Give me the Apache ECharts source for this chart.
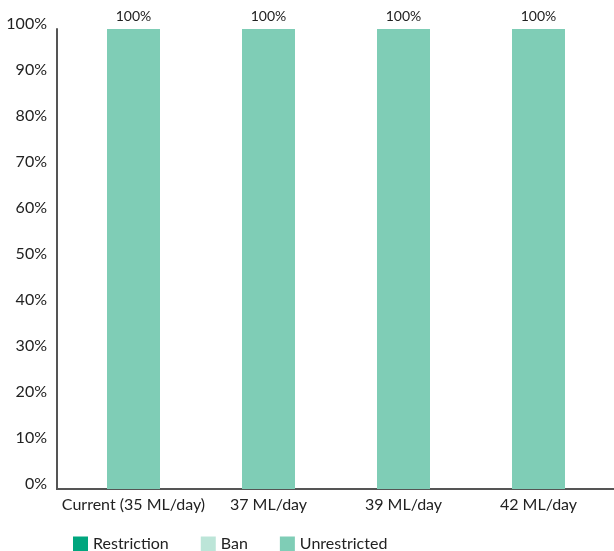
<!DOCTYPE html>
<html>
<head>
<meta charset="utf-8">
<script src="https://cdn.jsdelivr.net/npm/echarts@6/dist/echarts.min.js"></script>
<style>
  html, body { margin: 0; padding: 0; background: #fff; }
  #main { width: 614px; height: 551px; }
</style>
</head>
<body>
<div id="main"></div>
<script>
// data
var categories = ['Current (35 ML/day)', '37 ML/day', '39 ML/day', '42 ML/day'];
var restriction = [0, 0, 0, 0];
var ban = [0, 0, 0, 0];
var unrestricted = [100, 100, 100, 100];

var chartDom = document.getElementById('main');
var myChart = echarts.init(chartDom);
var font = 'Lato';

var option = {
  animation: false,
  textStyle: { fontFamily: font },
  grid: { left: 66, right: 8, top: 29, bottom: 62 },
  legend: {
    top: 531,
    left: 68,
    itemWidth: 15,
    itemHeight: 15,
    itemGap: 32,
    icon: 'rect',
    textStyle: { fontSize: 16, color: '#222', fontFamily: font },
    data: ['Restriction', 'Ban', 'Unrestricted']
  },
  xAxis: {
    type: 'category',
    data: categories,
    axisLine: { lineStyle: { color: '#555', width: 2 } },
    axisTick: { show: false },
    axisLabel: { fontSize: 16, color: '#222', margin: 8, interval: 0 }
  },
  yAxis: {
    type: 'value',
    min: 0,
    max: 100,
    interval: 10,
    offset: 9,
    axisLine: { show: true, lineStyle: { color: '#555', width: 2 } },
    axisTick: { show: false },
    splitLine: { show: false },
    axisLabel: {
      fontSize: 16, color: '#222', margin: 10,
      formatter: '{value}%',
      verticalAlign: 'bottom',
      lineHeight: 10
    }
  },
  // axis line stretches a bit past the category band on both sides
  graphic: [
    { type: 'line', shape: { x1: 56, y1: 489, x2: 67, y2: 489 }, style: { stroke: '#555', lineWidth: 2 } },
    { type: 'line', shape: { x1: 605, y1: 489, x2: 614, y2: 489 }, style: { stroke: '#555', lineWidth: 2 } }
  ],
  series: [
    {
      name: 'Restriction', type: 'bar', stack: 'a', data: restriction,
      barWidth: 53, itemStyle: { color: '#00a67e' }
    },
    {
      name: 'Ban', type: 'bar', stack: 'a', data: ban,
      barWidth: 53, itemStyle: { color: '#bce5d8' }
    },
    {
      name: 'Unrestricted', type: 'bar', stack: 'a', data: unrestricted,
      barWidth: 53, itemStyle: { color: '#7fcdb6' },
      label: {
        show: true, position: 'top', distance: 6,
        formatter: '{c}%', fontSize: 14, color: '#222', fontFamily: font
      }
    }
  ]
};

option && myChart.setOption(option);
</script>
</body>
</html>
